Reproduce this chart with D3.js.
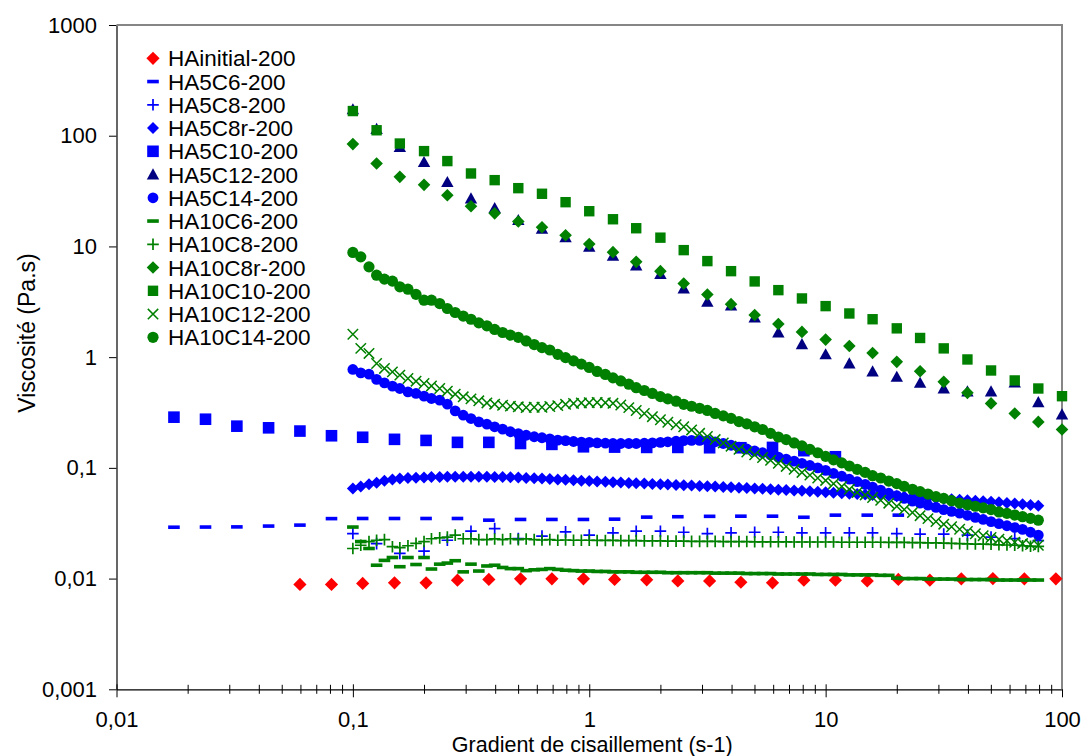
<!DOCTYPE html>
<html><head><meta charset="utf-8">
<script src="https://cdn.jsdelivr.net/npm/d3@7"></script>
<style>
body{margin:0;background:#fff}
svg{display:block}
text{font-family:"Liberation Sans",Arial,sans-serif;fill:#000}
</style>
</head><body>
<svg id="chart" width="1083" height="756"></svg>
<script>
// ---------- DATA ----------
const xTickValues = [0.01, 0.1, 1, 10, 100];
const xTickLabels = ["0,01", "0,1", "1", "10", "100"];
const yTickValues = [0.001, 0.01, 0.1, 1, 10, 100, 1000];
const yTickLabels = ["0,001", "0,01", "0,1", "1", "10", "100", "1000"];
const xTitle = "Gradient de cisaillement (s-1)";
const yTitle = "Viscosité (Pa.s)";

// shear-rate grids
const xStep75 = [0.0175, 0.0238, 0.0323, 0.044, 0.0597, 0.0812, 0.11, 0.15, 0.204, 0.277,
  0.376, 0.512, 0.695, 0.945, 1.28, 1.75, 2.37, 3.23, 4.38, 5.96,
  8.09, 11.0, 15.0, 20.3, 27.6, 37.5, 51.0, 69.3, 94.2];
const xStep10 = [0.1, 0.126, 0.158, 0.2, 0.251, 0.316, 0.398, 0.501, 0.631, 0.794,
  1, 1.26, 1.58, 2, 2.51, 3.16, 3.98, 5.01, 6.31, 7.94,
  10, 12.6, 15.8, 20, 25.1, 31.6, 39.8, 50.1, 63.1, 79.4, 100];
const xStep30 = [0.1, 0.108, 0.117, 0.126, 0.136, 0.147, 0.158, 0.171, 0.185, 0.2,
  0.215, 0.233, 0.251, 0.271, 0.293, 0.316, 0.341, 0.369, 0.398, 0.43,
  0.464, 0.501, 0.541, 0.585, 0.631, 0.681, 0.736, 0.794, 0.858, 0.926,
  1, 1.08, 1.17, 1.26, 1.36, 1.47, 1.58, 1.71, 1.85, 2,
  2.15, 2.33, 2.51, 2.71, 2.93, 3.16, 3.41, 3.69, 3.98, 4.3,
  4.64, 5.01, 5.41, 5.85, 6.31, 6.81, 7.36, 7.94, 8.58, 9.26,
  10, 10.8, 11.7, 12.6, 13.6, 14.7, 15.8, 17.1, 18.5, 20,
  21.5, 23.3, 25.1, 27.1, 29.3, 31.6, 34.1, 36.9, 39.8, 43,
  46.4, 50.1, 54.1, 58.5, 63.1, 68.1, 73.6, 79.4];

const yHAinitial = [0.00885, 0.00885, 0.00904, 0.00915, 0.00915, 0.00968, 0.00982, 0.00994, 0.00994, 0.00994,
  0.00982, 0.00975, 0.00953, 0.00953, 0.00927, 0.00915, 0.00968, 0.00968, 0.00953, 0.00982,
  0.00968, 0.00994, 0.0100, 0.00994, 0.00994];
const yHA5C6 = [0.0291, 0.0292, 0.0293, 0.0298, 0.0304, 0.0348, 0.0349, 0.0349, 0.0349, 0.0349,
  0.0337, 0.0342, 0.0342, 0.0342, 0.0344, 0.0359, 0.0362, 0.0365, 0.0366, 0.0366,
  0.0358, 0.0374, 0.0374, 0.0374];
const yHA5C8 = [0.0255, 0.0207, 0.0169, 0.0177, 0.0222, 0.0268, 0.0283, 0.023, 0.0242, 0.0264,
  0.0247, 0.0259, 0.0268, 0.0268, 0.0262, 0.0255, 0.0259, 0.0262, 0.0262, 0.0259,
  0.0259, 0.0259, 0.0259, 0.0255, 0.0252, 0.0252, 0.0247, 0.0237, 0.023, 0.022];
const yHA5C8r = [0.0651, 0.068, 0.0713, 0.0735, 0.0763, 0.0785, 0.08, 0.0808, 0.0815, 0.082,
  0.0825, 0.0828, 0.083, 0.0832, 0.0832, 0.0832, 0.083, 0.083, 0.0828, 0.0826,
  0.0822, 0.0818, 0.0812, 0.0806, 0.08, 0.0794, 0.0787, 0.078, 0.0773, 0.0766,
  0.076, 0.0754, 0.0748, 0.0742, 0.0736, 0.0731, 0.0726, 0.0721, 0.0716, 0.0711,
  0.0706, 0.0701, 0.0697, 0.0692, 0.0687, 0.0682, 0.0677, 0.0672, 0.0667, 0.0662,
  0.0657, 0.0652, 0.0647, 0.0642, 0.0636, 0.0631, 0.0625, 0.062, 0.0614, 0.0608,
  0.0602, 0.0596, 0.059, 0.0585, 0.058, 0.0575, 0.057, 0.0565, 0.056, 0.0555,
  0.055, 0.0545, 0.054, 0.0535, 0.053, 0.0525, 0.052, 0.0515, 0.051, 0.0505,
  0.05, 0.0494, 0.0488, 0.0482, 0.0476, 0.047, 0.0462, 0.0454];
const yHA5C10 = [0.287, 0.275, 0.238, 0.23, 0.215, 0.195, 0.189, 0.181, 0.177, 0.17,
  0.17, 0.166, 0.163, 0.155, 0.154, 0.153, 0.153, 0.152, 0.152, 0.153,
  0.143, 0.126];
const yHA5C12 = [173, 115, 79, 57.7, 38.1, 27.1, 22.2, 17.3, 14.4, 12.1,
  9.93, 8.22, 6.73, 5.62, 4.17, 3.16, 2.93, 2.28, 1.67, 1.31,
  1.06, 0.877, 0.743, 0.664, 0.586, 0.521, 0.49, 0.49, 0.59, 0.392, 0.303];
const yHA5C14 = [0.774, 0.722, 0.702, 0.629, 0.586, 0.547, 0.521, 0.486, 0.47, 0.444,
  0.423, 0.409, 0.376, 0.327, 0.299, 0.279, 0.26, 0.248, 0.235, 0.224,
  0.212, 0.204, 0.197, 0.191, 0.187, 0.183, 0.178, 0.176, 0.173, 0.171,
  0.17, 0.168, 0.167, 0.166, 0.166, 0.166, 0.166, 0.167, 0.168, 0.17,
  0.172, 0.174, 0.176, 0.177, 0.177, 0.176, 0.172, 0.166, 0.16, 0.154,
  0.148, 0.142, 0.137, 0.131, 0.125, 0.12, 0.115, 0.11, 0.105, 0.1,
  0.095, 0.089, 0.084, 0.079, 0.075, 0.071, 0.067, 0.063, 0.059, 0.056,
  0.053, 0.05, 0.048, 0.046, 0.044, 0.042, 0.0405, 0.039, 0.0373, 0.0357,
  0.0342, 0.0327, 0.0313, 0.03, 0.0289, 0.0278, 0.0262, 0.0247];
const yHA10C6 = [0.0292, 0.0216, 0.0187, 0.0132, 0.0146, 0.0155, 0.0128, 0.0155, 0.0134, 0.0155,
  0.0122, 0.0135, 0.0138, 0.0145, 0.0115, 0.0135, 0.0117, 0.013, 0.0132, 0.0126,
  0.0123, 0.0123, 0.0118, 0.012, 0.0121, 0.0123, 0.0121, 0.0119, 0.0118, 0.0117,
  0.0117, 0.0116, 0.0116, 0.0115, 0.0115, 0.0115, 0.0114, 0.0114, 0.0114, 0.0114,
  0.0113, 0.0113, 0.0113, 0.0113, 0.0113, 0.0113, 0.0112, 0.0112, 0.0112, 0.0112,
  0.0111, 0.0111, 0.0111, 0.0111, 0.011, 0.011, 0.011, 0.011, 0.011, 0.0109,
  0.0109, 0.0109, 0.0109, 0.0108, 0.0108, 0.0108, 0.0108, 0.0107, 0.0107, 0.0101,
  0.01, 0.01, 0.01, 0.0099, 0.0099, 0.0099, 0.0099, 0.0098, 0.0098, 0.0098,
  0.0098, 0.0098, 0.0097, 0.0097, 0.0097, 0.0097, 0.0097, 0.0097];
const yHA10C8 = [0.0187, 0.02, 0.0216, 0.0222, 0.0225, 0.0194, 0.019, 0.0198, 0.0208, 0.0216,
  0.0229, 0.0233, 0.0237, 0.0247, 0.0229, 0.0229, 0.0225, 0.0225, 0.0228, 0.0225,
  0.0229, 0.0225, 0.0228, 0.0225, 0.0223, 0.0225, 0.0222, 0.0223, 0.0222, 0.0222,
  0.0222, 0.0221, 0.0221, 0.0221, 0.022, 0.022, 0.022, 0.0219, 0.0219, 0.0219,
  0.0218, 0.0218, 0.0218, 0.0217, 0.0217, 0.0217, 0.0217, 0.0216, 0.0216, 0.0216,
  0.0216, 0.0215, 0.0215, 0.0215, 0.0215, 0.0215, 0.0214, 0.0214, 0.0214, 0.0214,
  0.0214, 0.0214, 0.0213, 0.0213, 0.0213, 0.0213, 0.0213, 0.0213, 0.0212, 0.0212,
  0.0212, 0.0211, 0.0211, 0.021, 0.021, 0.0209, 0.0208, 0.0207, 0.0206, 0.0205,
  0.0205, 0.0204, 0.0202, 0.0201, 0.02, 0.0198, 0.0196, 0.0195];
const yHA10C8r = [84, 56.2, 42.5, 36.0, 29.0, 23.1, 19.9, 16.8, 14.9, 12.6,
  10.5, 8.88, 7.26, 5.98, 4.63, 3.68, 3.01, 2.40, 1.99, 1.69,
  1.44, 1.26, 1.09, 0.907, 0.747, 0.598, 0.476, 0.382, 0.310, 0.260, 0.222];
const yHA10C10 = [167, 112, 85, 72.6, 59, 45.6, 39.7, 33.6, 29.9, 25.1,
  20.8, 17.6, 14.6, 12.0, 9.26, 7.37, 5.98, 4.83, 4.03, 3.39,
  2.89, 2.48, 2.20, 1.82, 1.49, 1.20, 0.953, 0.758, 0.616, 0.521, 0.444];
const yHA10C12 = [1.61, 1.2, 1.08, 0.877, 0.791, 0.736, 0.688, 0.642, 0.607, 0.578,
  0.55, 0.521, 0.493, 0.463, 0.438, 0.42, 0.403, 0.386, 0.376, 0.368,
  0.361, 0.356, 0.351, 0.353, 0.353, 0.358, 0.365, 0.375, 0.382, 0.386,
  0.388, 0.39, 0.388, 0.383, 0.37, 0.35, 0.33, 0.31, 0.29, 0.272,
  0.258, 0.245, 0.235, 0.22, 0.205, 0.192, 0.18, 0.168, 0.157, 0.147,
  0.139, 0.131, 0.124, 0.117, 0.11, 0.103, 0.097, 0.091, 0.086, 0.081,
  0.077, 0.072, 0.068, 0.064, 0.06, 0.057, 0.054, 0.051, 0.048, 0.045,
  0.042, 0.0395, 0.037, 0.0348, 0.0328, 0.031, 0.0294, 0.0279, 0.0266, 0.0254,
  0.0244, 0.0235, 0.0227, 0.022, 0.0213, 0.0207, 0.0203, 0.02];
const yHA10C14 = [8.83, 8.05, 6.54, 5.5, 5.07, 4.86, 4.32, 4.11, 3.69, 3.27,
  3.27, 3.05, 2.75, 2.53, 2.35, 2.2, 2.04, 1.92, 1.78, 1.67,
  1.58, 1.51, 1.4, 1.3, 1.22, 1.16, 1.06, 0.99, 0.926, 0.865,
  0.807, 0.743, 0.698, 0.65, 0.61, 0.57, 0.53, 0.5, 0.47, 0.44,
  0.42, 0.4, 0.375, 0.36, 0.345, 0.33, 0.31, 0.295, 0.28, 0.262,
  0.25, 0.235, 0.222, 0.205, 0.19, 0.18, 0.168, 0.158, 0.147, 0.137,
  0.127, 0.118, 0.111, 0.104, 0.097, 0.091, 0.085, 0.081, 0.076, 0.072,
  0.068, 0.064, 0.061, 0.058, 0.055, 0.053, 0.0505, 0.048, 0.0465, 0.045,
  0.0435, 0.042, 0.04, 0.0388, 0.0375, 0.0362, 0.035, 0.0337];

const seriesNames = ["HAinitial-200", "HA5C6-200", "HA5C8-200", "HA5C8r-200", "HA5C10-200",
  "HA5C12-200", "HA5C14-200", "HA10C6-200", "HA10C8-200", "HA10C8r-200",
  "HA10C10-200", "HA10C12-200", "HA10C14-200"];

// ---------- SERIES TABLE ----------
const RED = "#ff0000", BLUE = "#0000ff", NAVY = "#000080", GREEN = "#008000";
const series = [
  {name: seriesNames[0],  x: xStep75.slice(4),      y: yHAinitial, sym: "diamond",  color: RED,   s: 6.6},
  {name: seriesNames[1],  x: xStep75.slice(0, 24),  y: yHA5C6,     sym: "dash",     color: BLUE,  s: 5.8},
  {name: seriesNames[2],  x: xStep10.slice(0, 30),  y: yHA5C8,     sym: "plus",     color: BLUE,  s: 5.8},
  {name: seriesNames[3],  x: xStep30,               y: yHA5C8r,    sym: "diamond",  color: BLUE,  s: 6},
  {name: seriesNames[4],  x: xStep75.slice(0, 22),  y: yHA5C10,    sym: "square",   color: BLUE,  s: 5.8},
  {name: seriesNames[5],  x: xStep10,               y: yHA5C12,    sym: "triangle", color: NAVY,  s: 6.2},
  {name: seriesNames[6],  x: xStep30,               y: yHA5C14,    sym: "circle",   color: BLUE,  s: 5.4},
  {name: seriesNames[7],  x: xStep30,               y: yHA10C6,    sym: "dash",     color: GREEN, s: 5.8},
  {name: seriesNames[8],  x: xStep30,               y: yHA10C8,    sym: "plus",     color: GREEN, s: 5.8},
  {name: seriesNames[9],  x: xStep10,               y: yHA10C8r,   sym: "diamond",  color: GREEN, s: 6.3},
  {name: seriesNames[10], x: xStep10,               y: yHA10C10,   sym: "square",   color: GREEN, s: 5.2},
  {name: seriesNames[11], x: xStep30,               y: yHA10C12,   sym: "cross",    color: GREEN, s: 5.2},
  {name: seriesNames[12], x: xStep30,               y: yHA10C14,   sym: "circle",   color: GREEN, s: 5.6}
];

// ---------- LAYOUT ----------
const svg = d3.select("#chart");
const L = 116.5, R = 1062, T = 25, B = 689.3;
const x = d3.scaleLog().domain([0.01, 100]).range([L, R]);
const y = d3.scaleLog().domain([0.001, 1000]).range([B, T]);

function drawSym(g, sym, color, s) {
  if (sym === "diamond") {
    g.append("path").attr("d", `M0,${-s}L${s},0L0,${s}L${-s},0Z`).attr("fill", color);
  } else if (sym === "square") {
    g.append("rect").attr("x", -s).attr("y", -s).attr("width", 2 * s).attr("height", 2 * s).attr("fill", color);
  } else if (sym === "triangle") {
    g.append("path").attr("d", `M0,${-s}L${s},${s * 0.8}L${-s},${s * 0.8}Z`).attr("fill", color);
  } else if (sym === "circle") {
    g.append("circle").attr("r", s).attr("fill", color);
  } else if (sym === "dash") {
    g.append("rect").attr("x", -s).attr("y", -1.8).attr("width", 2 * s).attr("height", 3.6).attr("fill", color);
  } else if (sym === "plus") {
    g.append("path").attr("d", `M${-s},0H${s}M0,${-s}V${s}`).attr("stroke", color).attr("stroke-width", 1.7).attr("fill", "none");
  } else if (sym === "cross") {
    g.append("path").attr("d", `M${-s},${-s}L${s},${s}M${-s},${s}L${s},${-s}`).attr("stroke", color).attr("stroke-width", 1.5).attr("fill", "none");
  }
}

// ---------- AXES ----------
const minorX = [];
[0.01, 0.1, 1, 10].forEach(d => { for (let m = 2; m <= 9; m++) minorX.push(+(d * m).toPrecision(3)); });

const gxMinor = svg.append("g").attr("transform", `translate(0,${B})`)
  .call(d3.axisBottom(x).tickValues(minorX).tickSize(4.5).tickFormat(""));
gxMinor.select(".domain").remove();
gxMinor.selectAll(".tick line").attr("y1", -4.5).attr("stroke", "#000");

const gx = svg.append("g").attr("transform", `translate(0,${B})`)
  .call(d3.axisBottom(x).tickValues(xTickValues).tickSize(8).tickSizeOuter(0)
    .tickFormat((d, i) => xTickLabels[i]));
gx.select(".domain").attr("stroke", "#000").attr("stroke-width", 1.2);
gx.selectAll(".tick line").attr("y1", -5).attr("stroke", "#000");
gx.selectAll(".tick text").attr("y", 22.4).attr("font-size", 22).attr("fill", "#000")
  .style("font-family", "'Liberation Sans', Arial, sans-serif");

const gy = svg.append("g").attr("transform", `translate(${L},0)`)
  .call(d3.axisLeft(y).tickValues(yTickValues).tickSize(7.5).tickSizeOuter(0)
    .tickFormat((d, i) => yTickLabels[i]));
gy.select(".domain").attr("stroke", "#000").attr("stroke-width", 1.2);
gy.selectAll(".tick line").attr("stroke", "#000");
gy.selectAll(".tick text").attr("x", -19.5).attr("font-size", 22).attr("fill", "#000")
  .style("font-family", "'Liberation Sans', Arial, sans-serif");

// grey frame (top & right)
svg.append("path").attr("d", `M${L},${T}H${R}V${B}`).attr("fill", "none")
  .attr("stroke", "#868686").attr("stroke-width", 2);

// titles
svg.append("text").attr("x", (L + R) / 2 + 3).attr("y", 751.6).attr("text-anchor", "middle")
  .attr("font-size", 21.5).text(xTitle);
svg.append("text").attr("transform", `translate(35,333) rotate(-90)`).attr("text-anchor", "middle")
  .attr("font-size", 23).text(yTitle);

// ---------- DATA MARKS ----------
const plot = svg.append("g");
series.forEach(sr => {
  const g = plot.append("g").attr("class", "series");
  sr.y.forEach((v, i) => {
    const m = g.append("g").attr("transform", `translate(${x(sr.x[i])},${y(v)})`);
    drawSym(m, sr.sym, sr.color, sr.s);
  });
});

// ---------- LEGEND ----------
const leg = svg.append("g");
series.forEach((sr, i) => {
  const cy = 58.3 + i * 23.25;
  const m = leg.append("g").attr("transform", `translate(153,${cy})`);
  drawSym(m, sr.sym, sr.color, sr.s);
  leg.append("text").attr("x", 168).attr("y", cy + 8).attr("font-size", 22.5).text(sr.name);
});
</script>
</body></html>
